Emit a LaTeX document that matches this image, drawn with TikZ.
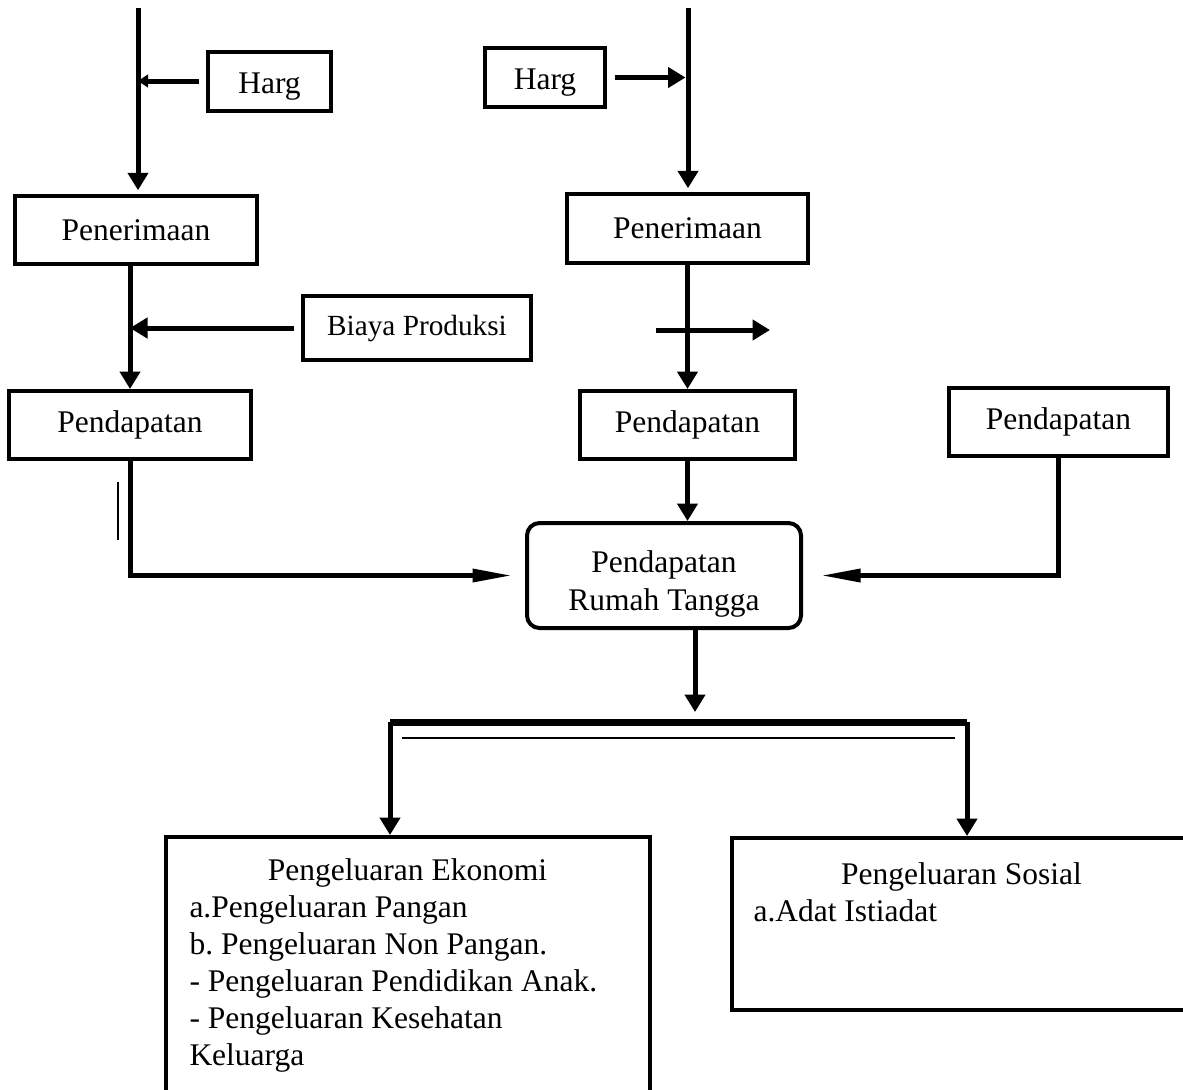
\documentclass[tikz,border=0pt]{standalone}
\usepackage{fontspec}
\setmainfont{Liberation Serif}
\usepackage{tikz}
\usetikzlibrary{arrows.meta,positioning}
\frenchspacing

\begin{document}
\begin{tikzpicture}[
        x=0.4pt, y=-0.4pt,
        font=\fontsize{12.6}{15.2}\selectfont,
        box/.style={rectangle, draw, line width=1.6pt, inner sep=0pt, text centered},
        hargbox/.style={box, text height=9.6pt, text depth=0pt},
        roundbox/.style={box, rounded corners=5pt},
        listtext/.style={anchor=north west, inner sep=0pt, align=flush left, font=\fontsize{12.6}{14.8}\selectfont},
        arrow/.style={-{Triangle[width=8pt,length=7pt]}, line width=2pt},
        smallarrow/.style={-{Triangle[width=5pt,length=4pt]}, line width=2pt},
        longarrow/.style={-{Triangle[width=5pt,length=16pt]}, line width=2pt},
        bar/.style={line width=2.8pt}
    ]
        \clip (0,0) rectangle (1183,1089);

        % Left column
        \coordinate (topL) at (138,8);
        \node[hargbox, minimum width=49.2pt, minimum height=23.6pt] (hargL) at (269.5,81) {Harg};
        \node[box, minimum width=96.8pt, minimum height=27.2pt] (penL) at (136,230) {Penerimaan};
        \node[box, minimum width=91.2pt, minimum height=25.6pt, font=\fontsize{11.7}{14}\selectfont] (biaya) at (417,328) {Biaya Produksi};
        \node[box, minimum width=96.8pt, minimum height=27.2pt] (pdpL) at (130,425) {Pendapatan};

        % Right column
        \coordinate (topR) at (688,8);
        \node[hargbox, minimum width=48pt, minimum height=23.6pt] (hargR) at (545,77.5) {Harg};
        \node[box, minimum width=96.4pt, minimum height=27.6pt] (penR) at (687.5,228.5) {Penerimaan};
        \node[box, minimum width=86pt, minimum height=27.2pt] (pdpM) at (687.5,425) {Pendapatan};
        \node[box, minimum width=87.6pt, minimum height=27.2pt] (pdpR) at (1058.5,422) {Pendapatan};
        \coordinate (crossA) at (656,330);
        \coordinate (crossB) at (770,330);

        % Household income
        \node[roundbox, minimum width=109.6pt, minimum height=42pt] (rt) at (664,575.5) {};
        \node[align=center, inner sep=0pt] (rttxt) at (664,583.5) {Pendapatan\\Rumah Tangga};

        % Expenditure
        \coordinate (split) at (695,722);
        \coordinate (barL) at (390,722);
        \coordinate (barR) at (967,722);
        \node[box, anchor=north, minimum width=193.6pt, minimum height=120pt] (econ) at (408,835) {};
        \node[box, anchor=north west, minimum width=190pt, minimum height=68.8pt] (soc) at (730,836) {};
        \node[listtext, text width=174.4pt] (econtxt) at (189,858) {\makebox[\hsize]{Pengeluaran Ekonomi}\\
            a.Pengeluaran Pangan\\
            b. Pengeluaran Non Pangan.\\
            - Pengeluaran Pendidikan Anak.\\
            - Pengeluaran Kesehatan\\
            Keluarga};
        \node[listtext, text width=166.4pt] (soctxt) at (753,862) {\makebox[\hsize]{Pengeluaran Sosial}\\
            a.Adat Istiadat};

        % Arrows - left
        \draw[arrow, shorten >=1.5pt] (topL) -- (topL |- penL.north);
        \draw[smallarrow, shorten <=3pt] (hargL.west) -- (hargL.west -| topL);
        \draw[arrow] (pdpL.north |- penL.south) -- (pdpL.north);
        \draw[arrow, shorten <=3pt] (biaya.west) -- (biaya.west -| pdpL.north);
        \draw[longarrow, shorten >=5pt] (pdpL.south) -- (pdpL.south |- rt.west) -- (rt.west);
        \draw[line width=0.8pt] (118,482) -- (118,540);

        % Arrows - right
        \draw[arrow, shorten >=1.5pt] (topR) -- (topR |- penR.north);
        \draw[arrow, shorten <=3pt, shorten >=1pt] (hargR.east) -- (hargR.east -| topR);
        \draw[arrow] (penR.south) -- (penR.south |- pdpM.north);
        \draw[arrow] (crossA) -- (crossB);
        \draw[arrow] (pdpM.south) -- (pdpM.south |- rt.north);
        \draw[longarrow, shorten >=7pt] (pdpR.south) -- (pdpR.south |- rt.east) -- (rt.east);

        % Branching
        \draw[arrow, shorten >=4pt] (split |- rt.south) -- (split);
        \draw[bar] (barL) -- (barR);
        \draw[line width=0.8pt] (402,738) -- (955,738);
        \draw[arrow] (barL) -- (barL |- econ.north);
        \draw[arrow] (barR) -- (barR |- soc.north);
    \end{tikzpicture}
\end{document}
